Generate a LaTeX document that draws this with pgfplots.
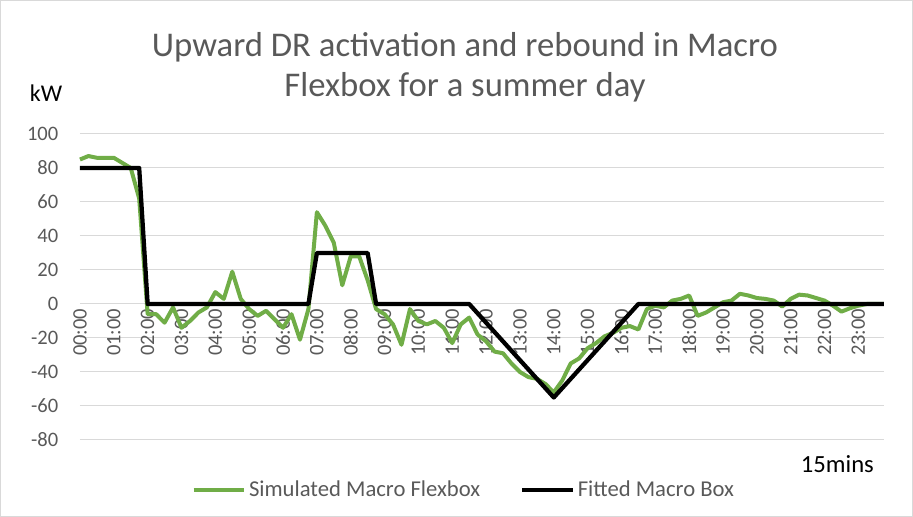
\documentclass[border=0pt]{standalone}
\usepackage{fontspec}
\setmainfont{Carlito}
\usepackage{pgfplots}
\pgfplotsset{compat=1.18}
\definecolor{xgreen}{HTML}{70AD47}
\definecolor{txtgray}{HTML}{595959}
\definecolor{gridgray}{HTML}{D9D9D9}
\pgfplotstableread{
i v
0 85
1 87
2 86
3 86
4 86
5 83
6 80
7 62
8 -6
9 -6
10 -11
11 -2
12 -14
13 -10
14 -5
15 -2
16 7
17 3
18 19
19 3
20 -3
21 -7
22 -4
23 -9
24 -14
25 -6
26 -21
27 -3
28 54
29 46
30 36
31 11
32 28
33 28
34 14
35 -3
36 -6
37 -12
38 -24
39 -3
40 -10
41 -12
42 -10
43 -14
44 -23
45 -12
46 -8
47 -18
48 -22
49 -28
50 -29
51 -35
52 -40
53 -43
54 -44
55 -47
56 -52
57 -45
58 -35
59 -32
60 -26
61 -23
62 -19
63 -17
64 -14
65 -13
66 -15
67 -3
68 -1
69 -2
70 2
71 3
72 5
73 -7
74 -5
75 -2
76 1
77 2
78 6
79 5
80 3.5
81 3
82 2
83 -1.5
84 3
85 5.5
86 5
87 3.5
88 2
89 -1
90 -4.5
91 -2.5
92 -1
93 0
94 0
95 0
}\simdata
\pgfplotstableread{
i v
0 80
7 80
8 0
27 0
28 30
34 30
35 0
46 0
56 -55
66 0
95 0
}\fitdata
\begin{document}
\begin{tikzpicture}[x=1pt,y=1pt]
\draw[gridgray, line width=0.75pt] (0.4,0.4) rectangle (684.35,387.35);
\begin{axis}[
  at={(60pt,57.75pt)}, anchor=south west,
  scale only axis, width=602.8pt, height=229.5pt,
  xmin=0, xmax=95, ymin=-80, ymax=100,
  axis x line=middle, axis y line=left,
  axis line style={draw=none},
  hide obscured x ticks=false,
  xtick={0,4,...,92},
  xticklabels={00:00,01:00,02:00,03:00,04:00,05:00,06:00,07:00,08:00,09:00,10:00,11:00,12:00,13:00,14:00,15:00,16:00,17:00,18:00,19:00,20:00,21:00,22:00,23:00},
  xticklabel style={rotate=90, anchor=east, font=\fontsize{15.4}{18}\selectfont, text=txtgray},
  ytick={-80,-60,...,100},
  yticklabel style={anchor=east, xshift=-12.75pt, font=\fontsize{15.4}{18}\selectfont, text=txtgray},
  /pgf/number format/assume math mode=true,
  major tick length=0pt,
  ymajorgrids, grid style={gridgray, line width=0.75pt},
  legend style={at={(0.478,-0.163)}, anchor=center, draw=none, fill=none,
    font=\fontsize{17}{20}\selectfont, text=txtgray, legend columns=2,
    /tikz/every even column/.append style={column sep=28pt}},
  legend image code/.code={\draw[#1] (0pt,0pt) -- (38pt,0pt);},
  clip=false,
]
\addplot[xgreen, line width=3pt, line join=round] table[x=i,y=v] {\simdata};
\addlegendentry{Simulated Macro Flexbox}
\addplot[black, line width=3.2pt, line join=round] table[x=i,y=v] {\fitdata};
\addlegendentry{Fitted Macro Box}
\end{axis}
\node[text=txtgray, font=\fontsize{26}{30}\selectfont] at (348.75,352.5) {Upward DR activation and rebound in Macro};
\node[text=txtgray, font=\fontsize{26}{30}\selectfont] at (348.75,322.5) {Flexbox for a summer day};
\node[font=\fontsize{18}{21}\selectfont] at (34.5,318) {kW};
\node[font=\fontsize{18.5}{21}\selectfont] at (628,40) {15mins};
\end{tikzpicture}
\end{document}
